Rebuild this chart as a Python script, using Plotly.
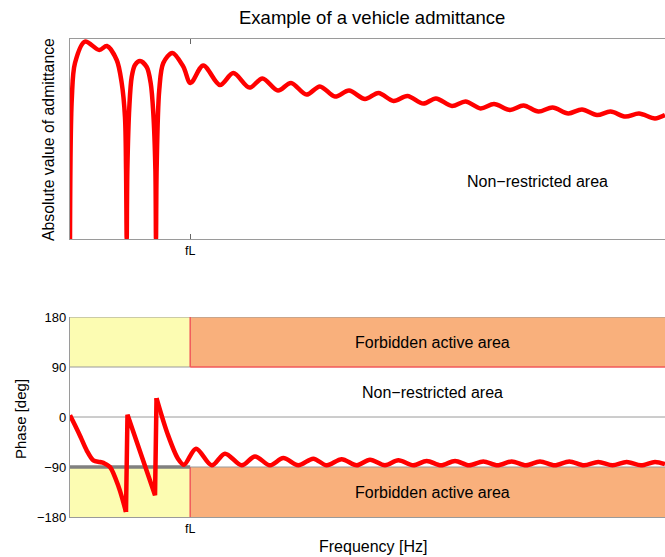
import plotly.graph_objects as go

# ---------------- data ----------------
FL = 20.2  # position of the fL tick on the normalised frequency axis (0..100)

# |Y| (normalised 0..1)
mag_f = [0, 0.3, 0.84, 2.52, 4.92, 6.2, 7.85, 8.69, 9.24, 9.42, 9.53, 9.64, 9.97,
         10.37, 10.92, 11.76, 12.89, 13.56, 14.0, 14.35, 14.45, 14.56, 15.0, 15.68,
         17.2, 19.04, 20.25, 22.4, 25.2,
         27.45, 30.17, 32.35, 34.96, 37.14, 39.75, 42.0, 44.54, 46.9, 49.58,
         51.85, 54.37, 56.72, 59.38, 61.5, 64.2, 66.47, 69.0, 71.26, 73.95,
         76.22, 78.74, 81.1, 83.75, 86.05, 88.57, 90.84, 93.36, 95.63, 98.32, 100]
mag_v = [0.0, 0.70, 0.88, 0.987, 0.945, 0.965, 0.895, 0.78, 0.61, 0.35, 0.0, 0.35, 0.66,
         0.81, 0.87, 0.89, 0.86, 0.78, 0.63, 0.35, 0.0, 0.35, 0.745, 0.88,
         0.93, 0.862, 0.78, 0.868, 0.77,
         0.83, 0.757, 0.803, 0.742, 0.78, 0.722, 0.763, 0.712, 0.742, 0.70,
         0.73, 0.69, 0.715, 0.677, 0.703, 0.665, 0.688, 0.653, 0.675, 0.645,
         0.667, 0.637, 0.658, 0.628, 0.648, 0.62, 0.637, 0.612, 0.628, 0.603, 0.62]

# phase [deg], split where the phase wraps (sharp jumps)
ph_a_f = [0, 0.84, 1.78, 2.8, 3.92, 5.04, 5.71, 6.72, 8.18, 9.41]
ph_a_v = [3, -15, -36, -60, -78, -81, -83, -90, -126, -171]
ph_b_f = [9.41, 9.66, 14.29, 14.54]
ph_b_v = [-171, 4, -141, 34]
ph_c_f = [14.54, 16.39, 18.15, 19.16, 21.18, 23.82, 26.05, 28.86, 31.09, 33.61,
          35.85, 38.37, 40.89, 43.14, 45.66, 48.18, 50.42, 52.94, 55.18, 57.7,
          59.95, 62.35, 64.71, 67.06, 69.46, 71.85, 74.24, 76.64, 78.99, 81.46,
          83.92, 86.39, 88.79, 91.18, 93.56, 95.97, 98.32, 100]
ph_c_v = [34, -30, -75, -86, -57, -87, -66, -87, -71, -87, -74, -87, -75, -87,
          -76, -87, -77, -87, -78, -87, -79, -87, -79, -87, -80, -87, -80, -87,
          -80, -87, -80, -87, -81, -87, -81, -87, -81, -85]

phase_ticks = [-180, -90, 0, 90, 180]
fmax = 100

RED = "#ff0000"
GRAY = "#9a9a9a"
YELLOW = "#fcfcb2"
ORANGE = "#f9b07c"
EDGE = "#f0585a"
FONT = "Liberation Sans, Arial, Helvetica, sans-serif"
LW = 4.5

fig = go.Figure()
fig.add_trace(go.Scatter(x=mag_f, y=mag_v, mode="lines", xaxis="x", yaxis="y",
                         line=dict(color=RED, width=LW, shape="spline", smoothing=0.9),
                         showlegend=False, hoverinfo="skip"))
fig.add_trace(go.Scatter(x=ph_a_f, y=ph_a_v, mode="lines", xaxis="x2", yaxis="y2",
                         line=dict(color=RED, width=LW, shape="spline", smoothing=0.9),
                         showlegend=False, hoverinfo="skip"))
fig.add_trace(go.Scatter(x=ph_b_f, y=ph_b_v, mode="lines", xaxis="x2", yaxis="y2",
                         line=dict(color=RED, width=LW, shape="linear"),
                         showlegend=False, hoverinfo="skip"))
fig.add_trace(go.Scatter(x=ph_c_f, y=ph_c_v, mode="lines", xaxis="x2", yaxis="y2",
                         line=dict(color=RED, width=LW, shape="spline", smoothing=0.9),
                         showlegend=False, hoverinfo="skip"))

shapes = []
def rect(x0, x1, y0, y1, color):
    shapes.append(dict(type="rect", xref="x2", yref="y2", x0=x0, x1=x1, y0=y0, y1=y1,
                       fillcolor=color, line=dict(width=0), layer="between"))
def seg(x0, x1, y0, y1, color, width):
    shapes.append(dict(type="line", xref="x2", yref="y2", x0=x0, x1=x1, y0=y0, y1=y1,
                       line=dict(color=color, width=width), layer="between"))

rect(0, FL, 90, 180, YELLOW)
rect(0, FL, -180, -90, YELLOW)
rect(FL, fmax, 90, 180, ORANGE)
rect(FL, fmax, -180, -90, ORANGE)
# gray grid lines
seg(0, fmax, 180, 180, GRAY, 1)
seg(0, FL, 90, 90, GRAY, 1)
seg(0, fmax, 0, 0, GRAY, 1)
seg(FL, fmax, -90, -90, GRAY, 1)
# red edges of forbidden area
seg(FL, FL, 90, 180, EDGE, 1.5)
seg(FL, fmax, 90, 90, EDGE, 1.5)
seg(FL, FL, -180, -90, EDGE, 1.5)
# thick -90 line in low-frequency region
seg(0, FL, -90, -90, "#808080", 3.5)

def ann(text, x, y, size, xref="paper", yref="paper", angle=0):
    return dict(text=text, xref=xref, yref=yref, x=x, y=y, textangle=angle,
                xanchor="center", yanchor="middle", showarrow=False,
                font=dict(size=size, color="black", family=FONT))

annotations = [
    ann("Example of a vehicle admittance", 372 / 665, 1 - 18 / 557, 18.5),
    ann("Absolute value of admittance", 48 / 665, 1 - 140 / 557, 15.8, angle=-90),
    ann("Non\u2212restricted area", 78.5, 0.29, 16, "x", "y"),
    ann("Forbidden active area", 60.9, 135, 16, "x2", "y2"),
    ann("Non\u2212restricted area", 60.9, 45, 16, "x2", "y2"),
    ann("Forbidden active area", 60.9, -135, 16, "x2", "y2"),
    ann("Phase [deg]", 20 / 665, 1 - 419 / 557, 15, angle=-90),
    ann("Frequency [Hz]", 373 / 665, 1 - 546 / 557, 16),
]

xdom = [70 / 665, 1.0]
fig.update_layout(
    width=665, height=557,
    margin=dict(l=0, r=0, t=0, b=0),
    paper_bgcolor="white", plot_bgcolor="white",
    font=dict(family=FONT, size=12, color="black"),
    xaxis=dict(domain=xdom, range=[0, fmax], anchor="y", tickvals=[FL], ticktext=["fL"],
               ticks="inside", ticklen=5, tickcolor="#666", showline=True, mirror="ticks",
               linecolor=GRAY, linewidth=1.2, showgrid=False, zeroline=False,
               tickfont=dict(size=12.5), automargin=False),
    yaxis=dict(domain=[1 - 239 / 557, 1 - 39 / 557], range=[0, 1.0], anchor="x",
               showticklabels=False, ticks="", showline=True, linecolor=GRAY,
               linewidth=1.2, showgrid=False, zeroline=False, automargin=False),
    xaxis2=dict(domain=xdom, range=[0, fmax], anchor="y2", tickvals=[FL], ticktext=["fL"],
                ticks="", showline=True, linecolor=GRAY, linewidth=1.2,
                showgrid=False, zeroline=False, tickfont=dict(size=12.5), automargin=False),
    yaxis2=dict(domain=[1 - 517 / 557, 1 - 317 / 557], range=[-180, 180], anchor="x2",
                tickvals=phase_ticks, ticks="", showline=True, linecolor=GRAY,
                linewidth=1.2, showgrid=False, zeroline=False,
                tickfont=dict(size=13), automargin=False),
    shapes=shapes,
    annotations=annotations,
)

fig.write_html("out.html", config={"displayModeBar": False},
               post_script="document.body.style.margin='0';")
